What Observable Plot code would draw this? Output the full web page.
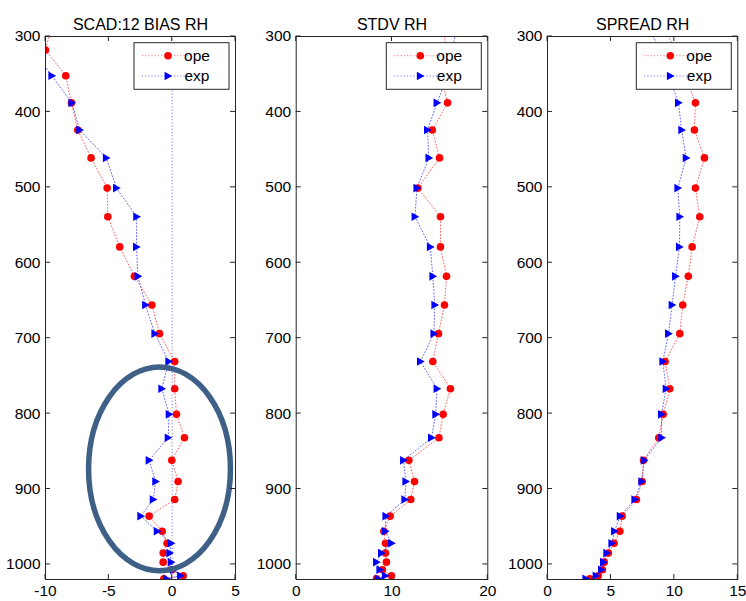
<!DOCTYPE html>
<html>
<head>
<meta charset="utf-8">
<script src="https://cdn.jsdelivr.net/npm/d3@7"></script>
<script src="https://cdn.jsdelivr.net/npm/@observablehq/plot@0.6"></script>
<style>
  body { margin: 0; background: #fff; }
  #fig { position: relative; width: 746px; height: 601px; overflow: hidden; background: #fff;
         font-family: "Liberation Sans", Arial, sans-serif; }
  #fig svg { position: absolute; top: 0; overflow: visible; }
</style>
</head>
<body>
<div id="fig"></div>
<script>
// Pressure levels (hPa) of the profile
const levels = [285, 318, 352, 388, 424, 461, 501, 539, 579, 618, 656, 694, 731, 767,
                801, 832, 862, 890, 914, 936, 956, 972, 985, 997, 1007, 1015, 1019];

// Relative humidity bias
const biasOpe = [-9.5, -10.0, -8.4, -7.95, -7.45, -6.4, -5.13, -5.08, -4.14, -2.98, -1.6, -1.0, 0.2, 0.2,
                 0.34, 0.97, -0.03, 0.47, 0.2, -1.82, -0.79, -0.4, -0.71, -0.71, 0.0, 0.87, -0.66];
const biasExp = [-12.5, -11.0, -9.5, -7.92, -7.3, -5.2, -4.4, -2.8, -2.82, -2.7, -2.1, -1.37, -0.27, -0.82,
                 -0.24, -0.32, -1.82, -1.3, -1.5, -2.48, -1.18, -0.08, -0.19, -0.08, 0.1, 0.66, -0.45];

// Relative humidity standard deviation
const stdvOpe = [15.4, 15.6, 15.1, 15.8, 14.2, 14.96, 12.7, 15.06, 15.06, 15.69, 15.48, 14.85, 14.26, 16.1,
                 15.34, 14.9, 11.76, 12.35, 11.96, 9.8, 9.15, 9.32, 9.32, 9.42, 9.0, 9.95, 8.38];
const stdvExp = [16.8, 16.3, 15.8, 14.7, 13.7, 13.85, 12.6, 12.4, 14.0, 14.26, 14.47, 14.37, 12.97, 14.7,
                 14.57, 14.12, 11.2, 11.44, 11.34, 9.36, 9.3, 9.95, 8.9, 8.38, 8.73, 9.3, 8.55];

// Ensemble spread
const spreadOpe = [8.9, 10.2, 10.87, 11.66, 11.58, 12.37, 11.66, 12.0, 11.4, 11.1, 10.66, 10.43, 9.27, 9.64,
                   9.12, 8.77, 7.57, 7.46, 7.01, 5.88, 5.7, 5.25, 4.8, 4.47, 4.33, 4.0, 3.34];
const spreadExp = [7.85, 8.9, 9.57, 10.32, 10.58, 10.93, 10.27, 10.43, 10.4, 10.09, 9.82, 9.54, 9.09, 9.35,
                   8.98, 9.0, 7.62, 7.43, 6.88, 5.73, 5.28, 5.07, 4.67, 4.41, 4.25, 3.83, 3.02];

const yTicks = [300, 400, 500, 600, 700, 800, 900, 1000];
const seriesNames = ["ope", "exp"];

// Region circled on the bias panel (data units)
const highlight = {x: -0.96, y: 874, rx: 5.6, ry: 135};

const INK = "#262626";
const OPE = "#ff0000";
const EXP = "#0000ff";
const DOTS = "1,2.2";

// Right-pointing filled triangle marker
const triangleRight = {
  draw(ctx, size) {
    const r = Math.sqrt(size / Math.PI);
    ctx.moveTo(-0.8 * r, -r);
    ctx.lineTo(r, 0);
    ctx.lineTo(-0.8 * r, r);
    ctx.closePath();
  }
};

// Tick marks pointing into the box on all four sides
function boxTicks(xTicks, yTicks, len = 5) {
  return (index, {x, y}, values, dims) => {
    const g = d3.create("svg:g").attr("stroke", INK).attr("stroke-width", 1).attr("fill", "none");
    const top = dims.marginTop, bottom = dims.height - dims.marginBottom;
    const left = dims.marginLeft, right = dims.width - dims.marginRight;
    for (const t of xTicks) {
      const px = x(t);
      g.append("line").attr("x1", px).attr("x2", px).attr("y1", bottom).attr("y2", bottom - len);
      g.append("line").attr("x1", px).attr("x2", px).attr("y1", top).attr("y2", top + len);
    }
    for (const t of yTicks) {
      const py = y(t);
      g.append("line").attr("y1", py).attr("y2", py).attr("x1", left).attr("x2", left + len);
      g.append("line").attr("y1", py).attr("y2", py).attr("x1", right).attr("x2", right - len);
    }
    return g.node();
  };
}

// Boxed legend in the upper-right corner of the axes
function legendBox() {
  return (index, scales, values, dims) => {
    const w = 95, h = 46.6;
    const x0 = dims.width - dims.marginRight - 6 - w, y0 = dims.marginTop + 6.7;
    const g = d3.create("svg:g");
    g.append("rect").attr("x", x0).attr("y", y0).attr("width", w).attr("height", h)
      .attr("fill", "#fff").attr("stroke", INK).attr("stroke-width", 1);
    const rows = [
      {name: seriesNames[0], color: OPE, dy: 13},
      {name: seriesNames[1], color: EXP, dy: 33.3}
    ];
    for (const row of rows) {
      const cy = y0 + row.dy;
      g.append("line").attr("x1", x0 + 8).attr("x2", x0 + 59).attr("y1", cy).attr("y2", cy)
        .attr("stroke", row.color).attr("stroke-width", 1).attr("stroke-dasharray", DOTS)
        .attr("stroke-opacity", 0.6);
      const mx = x0 + 34;
      if (row.name === "ope") {
        g.append("circle").attr("cx", mx).attr("cy", cy).attr("r", 3.8).attr("fill", row.color);
      } else {
        const r = 4.3;
        g.append("path").attr("d", `M${mx - 0.8 * r},${cy - r}L${mx + r},${cy}L${mx - 0.8 * r},${cy + r}Z`)
          .attr("fill", row.color);
      }
      g.append("text").attr("x", x0 + 63).attr("y", cy).attr("dy", "0.35em")
        .attr("font-size", 15.5).attr("fill", "#000").text(row.name);
    }
    return g.node();
  };
}

// Ellipse drawn around a region of interest
function ringMark(h) {
  return (index, {x, y}) => {
    const cx = x(h.x), cy = y(h.y);
    return d3.create("svg:ellipse")
      .attr("cx", cx).attr("cy", cy)
      .attr("rx", Math.abs(x(h.x + h.rx) - cx)).attr("ry", Math.abs(y(h.y + h.ry) - cy))
      .attr("fill", "none").attr("stroke", "#3e6087").attr("stroke-width", 5.5)
      .node();
  };
}

function panel({title, ope, exp, xDomain, xTicks, left, width, marginLeft, marginRight, zeroLine, ring}) {
  const opeData = levels.map((lev, i) => ({lev, v: ope[i]}));
  const expData = levels.map((lev, i) => ({lev, v: exp[i]}));
  const lineStyle = {x: "v", y: "lev", strokeWidth: 1, strokeDasharray: DOTS, strokeOpacity: 0.6, clip: true};
  const marks = [
    zeroLine ? Plot.ruleX([0], {stroke: EXP, strokeWidth: 1, strokeDasharray: DOTS, strokeOpacity: 0.6}) : null,
    Plot.line(opeData, {...lineStyle, stroke: OPE}),
    Plot.dot(opeData, {x: "v", y: "lev", r: 3.8, fill: OPE, stroke: "none", clip: true}),
    Plot.line(expData, {...lineStyle, stroke: EXP}),
    Plot.dot(expData, {x: "v", y: "lev", r: 4.3, symbol: triangleRight, fill: EXP, stroke: "none", clip: true}),
    ring ? ringMark(ring) : null,
    Plot.frame({stroke: INK, strokeWidth: 1}),
    boxTicks(xTicks, yTicks),
    Plot.axisX(xTicks, {anchor: "bottom", label: null, tickSize: 0, tickPadding: 5, tickFormat: d => String(d), fill: "#000"}),
    Plot.axisY(yTicks, {anchor: "left", label: null, tickSize: 0, tickPadding: 5, tickFormat: d => String(d), fill: "#000"}),
    Plot.text([title], {text: d => d, frameAnchor: "top", dy: -18, fontSize: 16, fill: "#000"}),
    legendBox()
  ].filter(Boolean);

  const svg = Plot.plot({
    width, height: 601,
    marginTop: 36, marginBottom: 22, marginLeft, marginRight,
    x: {domain: xDomain, axis: null, label: null},
    y: {domain: [300, 1020], reverse: true, axis: null, label: null},
    style: {fontFamily: '"Liberation Sans", Arial, sans-serif', fontSize: "15.5px", background: "transparent", overflow: "visible"},
    marks
  });
  svg.style.left = left + "px";
  document.getElementById("fig").appendChild(svg);
}

panel({title: "SCAD:12 BIAS RH", ope: biasOpe, exp: biasExp, xDomain: [-10, 5], xTicks: [-10, -5, 0, 5],
       left: 0, width: 250, marginLeft: 45, marginRight: 15, zeroLine: true, ring: highlight});
panel({title: "STDV RH", ope: stdvOpe, exp: stdvExp, xDomain: [0, 20], xTicks: [0, 10, 20],
       left: 250, width: 250, marginLeft: 45.7, marginRight: 12.7});
panel({title: "SPREAD RH", ope: spreadOpe, exp: spreadExp, xDomain: [0, 15], xTicks: [0, 5, 10, 15],
       left: 500, width: 246, marginLeft: 47, marginRight: 8.7});
</script>
</body>
</html>
